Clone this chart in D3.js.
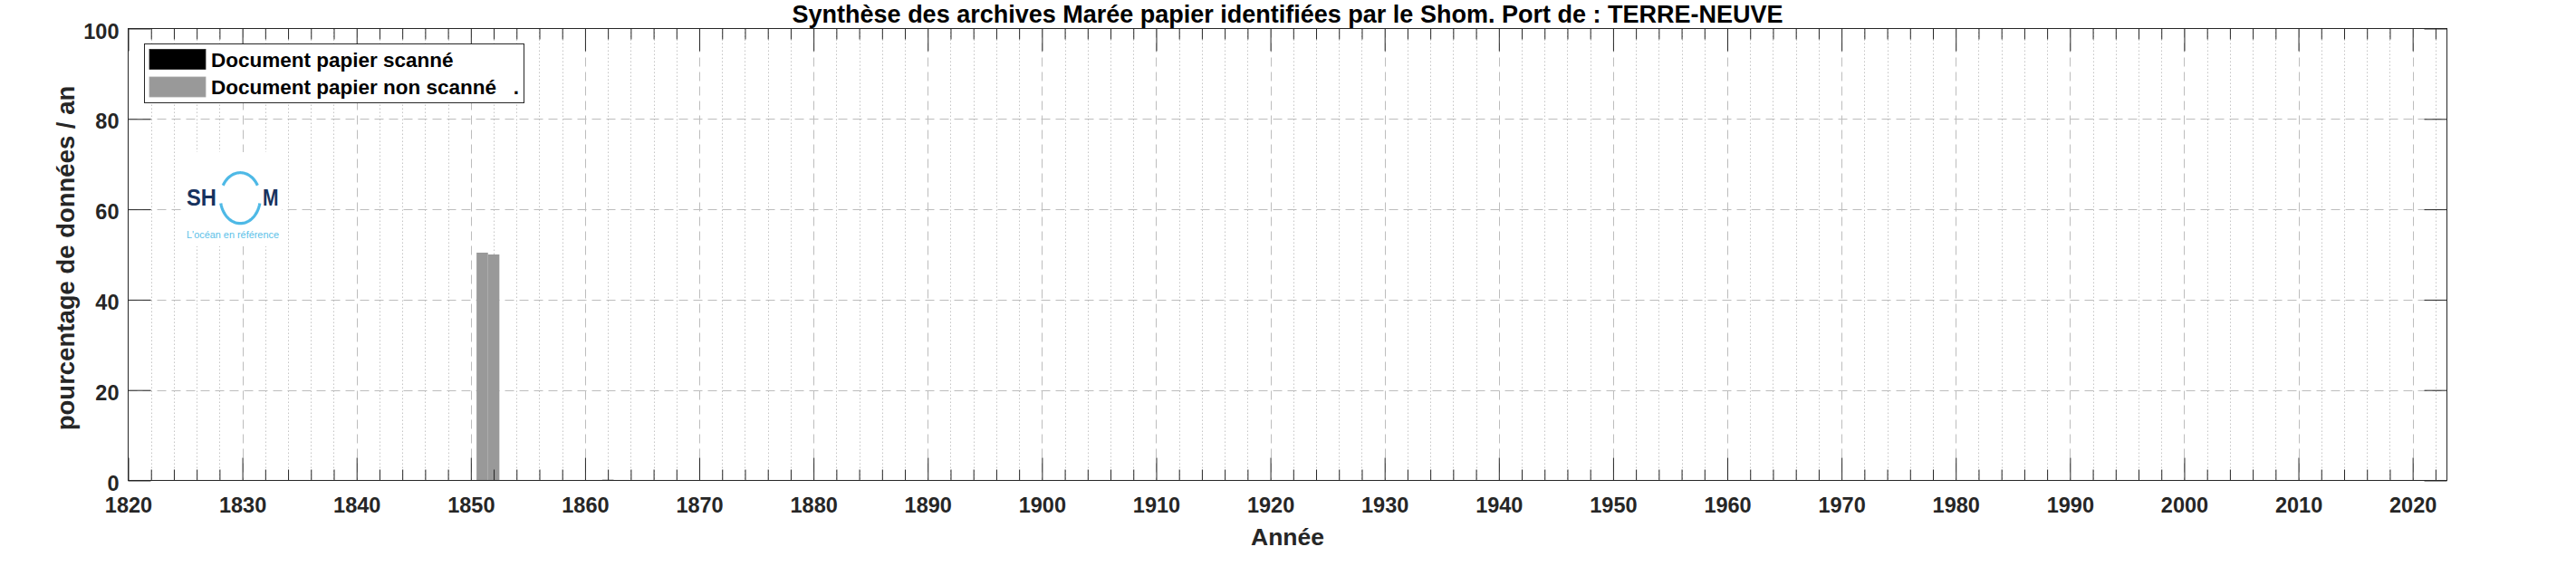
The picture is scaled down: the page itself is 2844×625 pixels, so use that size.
<!DOCTYPE html>
<html>
<head>
<meta charset="utf-8">
<script src="https://cdn.jsdelivr.net/npm/d3@7"></script>
<style>
  html, body { margin: 0; padding: 0; background: #fff; }
  svg { display: block; }
  text { font-family: "Liberation Sans", Arial, Helvetica, sans-serif; }
</style>
</head>
<body>
<svg id="chart" width="2844" height="625"></svg>
<script>
// ---- data ----
const years = [1851, 1852, 1862];
const scanned = [0, 0, 0];
const nonScanned = [50.4, 50.0, 0.2];
const seriesNames = ["Document papier scanné", "Document papier non scanné   ."];
const seriesColors = ["#000000", "#999999"];
const xMajorTicks = [1820, 1830, 1840, 1850, 1860, 1870, 1880, 1890, 1900, 1910, 1920, 1930, 1940, 1950, 1960, 1970, 1980, 1990, 2000, 2010, 2020];
const yTicks = [0, 20, 40, 60, 80, 100];
const titleText = "Synthèse des archives Marée papier identifiées par le Shom. Port de : TERRE-NEUVE";
const xLabelText = "Année";
const yLabelText = "pourcentage de données / an";

// ---- layout ----
const L = 141.5, R = 2701.5, T = 31.5, B = 530.5;
const axisColor = "#262626";

const svg = d3.select("#chart");
const x = d3.scaleLinear().domain([1820, 2023]).range([L, R]);
const y = d3.scaleLinear().domain([0, 100]).range([B, T]);

const xMinorTicks = d3.range(1822, 2023, 2).filter(v => v % 10 !== 0);

// grid
const grid = svg.append("g");
grid.selectAll("line.minor").data(xMinorTicks).join("line")
  .attr("x1", d => Math.round(x(d)) + 0.5).attr("x2", d => Math.round(x(d)) + 0.5)
  .attr("y1", T).attr("y2", B)
  .attr("stroke", "#c4c4c4").attr("stroke-width", 1).attr("stroke-dasharray", "1.5,2.5");
grid.selectAll("line.majx").data(xMajorTicks.filter(v => v > 1820)).join("line")
  .attr("x1", d => Math.round(x(d)) + 0.5).attr("x2", d => Math.round(x(d)) + 0.5)
  .attr("y1", T).attr("y2", B)
  .attr("stroke", "#bdbdbd").attr("stroke-width", 1).attr("stroke-dasharray", "10,6");
grid.selectAll("line.majy").data(yTicks.filter(v => v > 0 && v < 100)).join("line")
  .attr("x1", L).attr("x2", R)
  .attr("y1", d => Math.round(y(d)) + 0.5).attr("y2", d => Math.round(y(d)) + 0.5)
  .attr("stroke", "#bdbdbd").attr("stroke-width", 1).attr("stroke-dasharray", "10,6");

// bars (stacked)
const table = years.map((yr, i) => ({ year: yr, scanned: scanned[i], nonScanned: nonScanned[i] }));
const stack = d3.stack().keys(["scanned", "nonScanned"])(table);
svg.append("g").selectAll("g").data(stack).join("g")
  .attr("fill", (d, i) => seriesColors[i])
  .selectAll("rect").data(d => d).join("rect")
  .attr("x", d => x(d.data.year - 0.5))
  .attr("width", d => x(d.data.year + 0.5) - x(d.data.year - 0.5))
  .attr("y", d => y(d[1]))
  .attr("height", d => Math.max(0, y(d[0]) - y(d[1])));

// axes
const fmt = d3.format("d");
function styleAxis(g) {
  g.select(".domain").remove();
  g.selectAll("line").attr("stroke", axisColor);
  g.selectAll("text").attr("fill", axisColor).attr("font-size", "23.5px").attr("font-weight", "bold")
    .style("font-family", '"Liberation Sans", Arial, Helvetica, sans-serif');
}
svg.append("g").attr("transform", `translate(0,${B})`)
  .call(d3.axisBottom(x).tickValues(xMajorTicks).tickSize(-25).tickPadding(19).tickFormat(fmt)).call(styleAxis);
svg.append("g").attr("transform", `translate(0,${B})`)
  .call(d3.axisBottom(x).tickValues(xMinorTicks).tickSize(-12).tickFormat("")).call(styleAxis);
svg.append("g").attr("transform", `translate(0,${T})`)
  .call(d3.axisTop(x).tickValues(xMajorTicks).tickSize(-25).tickFormat("")).call(styleAxis);
svg.append("g").attr("transform", `translate(0,${T})`)
  .call(d3.axisTop(x).tickValues(xMinorTicks).tickSize(-12).tickFormat("")).call(styleAxis);
const yl = svg.append("g").attr("transform", `translate(${L},0)`)
  .call(d3.axisLeft(y).tickValues(yTicks).tickSize(-25).tickPadding(10).tickFormat(fmt)).call(styleAxis);
yl.selectAll("text").attr("dy", "0.45em");
svg.append("g").attr("transform", `translate(${R},0)`)
  .call(d3.axisRight(y).tickValues(yTicks).tickSize(-25).tickFormat("")).call(styleAxis);

// frame
svg.append("rect").attr("x", L).attr("y", T).attr("width", R - L).attr("height", B - T)
  .attr("fill", "none").attr("stroke", axisColor).attr("stroke-width", 1);

// logo
const logo = svg.append("g");
logo.append("rect").attr("x", 200).attr("y", 168).attr("width", 111).attr("height", 104).attr("fill", "#fff");
const cx = 265.3, cy = 218.7, rx = 22, ry = 28;
function arcPath(a0, a1) {
  const pts = d3.range(0, 41).map(i => {
    const a = (a0 + (a1 - a0) * i / 40) * Math.PI / 180;
    return [cx + rx * Math.cos(a), cy - ry * Math.sin(a)];
  });
  return d3.line()(pts);
}
logo.append("path").attr("d", arcPath(150, 30)).attr("fill", "none").attr("stroke", "#4eb9e6").attr("stroke-width", 3.2);
logo.append("path").attr("d", arcPath(-168, -12)).attr("fill", "none").attr("stroke", "#4eb9e6").attr("stroke-width", 3.2);
logo.append("text").attr("x", 206).attr("y", 226.7).attr("font-size", "26px").attr("font-weight", "bold")
  .attr("fill", "#17325e").attr("textLength", 33).attr("lengthAdjust", "spacingAndGlyphs").text("SH");
logo.append("text").attr("x", 290).attr("y", 226.7).attr("font-size", "26px").attr("font-weight", "bold")
  .attr("fill", "#17325e").attr("textLength", 17.5).attr("lengthAdjust", "spacingAndGlyphs").text("M");
logo.append("text").attr("x", 206).attr("y", 263).attr("font-size", "11px")
  .attr("fill", "#5bbfe8").attr("textLength", 102).attr("lengthAdjust", "spacingAndGlyphs").text("L'océan en référence");

// legend
const lg = svg.append("g");
lg.append("rect").attr("x", 159.5).attr("y", 48.5).attr("width", 419).attr("height", 65)
  .attr("fill", "#fff").attr("stroke", axisColor).attr("stroke-width", 1);
const rowsY = [54.5, 85];
seriesNames.forEach((name, i) => {
  lg.append("rect").attr("x", 165).attr("y", rowsY[i]).attr("width", 62).attr("height", 22)
    .attr("fill", seriesColors[i]).attr("stroke", i === 0 ? "#222" : "#a6a6a6").attr("stroke-width", 0.8);
  lg.append("text").attr("x", 233).attr("y", rowsY[i] + 11).attr("dy", "0.36em")
    .attr("font-size", "22.5px").attr("font-weight", "bold").attr("fill", "#000")
    .style("white-space", "pre").attr("xml:space", "preserve").text(name);
});

// title and labels
svg.append("text").attr("x", (L + R) / 2).attr("y", 25).attr("text-anchor", "middle")
  .attr("font-size", "27px").attr("font-weight", "bold").attr("fill", "#000").text(titleText);
svg.append("text").attr("x", (L + R) / 2).attr("y", 601.7).attr("text-anchor", "middle")
  .attr("font-size", "26.5px").attr("font-weight", "bold").attr("fill", axisColor).text(xLabelText);
svg.append("text").attr("transform", `translate(81.5,${(T + B) / 2 + 4}) rotate(-90)`).attr("text-anchor", "middle")
  .attr("font-size", "27.5px").attr("font-weight", "bold").attr("fill", axisColor).text(yLabelText);
</script>
</body>
</html>
